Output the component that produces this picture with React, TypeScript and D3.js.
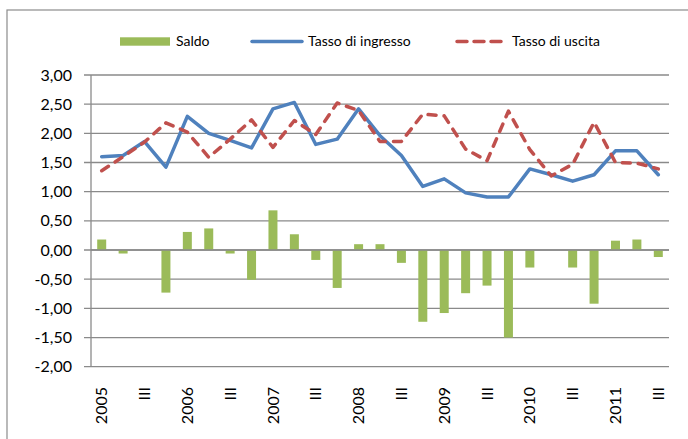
import React from "react";
import * as d3 from "d3";

const quarters: string[] = [
  "2005 I", "2005 II", "2005 III", "2005 IV",
  "2006 I", "2006 II", "2006 III", "2006 IV",
  "2007 I", "2007 II", "2007 III", "2007 IV",
  "2008 I", "2008 II", "2008 III", "2008 IV",
  "2009 I", "2009 II", "2009 III", "2009 IV",
  "2010 I", "2010 II", "2010 III", "2010 IV",
  "2011 I", "2011 II", "2011 III",
];
const tickLabels: string[] = [
  "2005", "", "III", "", "2006", "", "III", "", "2007", "", "III", "", "2008", "", "III", "",
  "2009", "", "III", "", "2010", "", "III", "", "2011", "", "III",
];
const saldo: number[] = [
  0.18, -0.06, 0, -0.73, 0.31, 0.37, -0.06, -0.51, 0.68, 0.27, -0.17, -0.65, 0.1, 0.1,
  -0.22, -1.23, -1.08, -0.74, -0.61, -1.5, -0.3, 0, -0.3, -0.92, 0.16, 0.18, -0.12,
];
const ingresso: number[] = [
  1.6, 1.62, 1.86, 1.42, 2.29, 2.0, 1.88, 1.75, 2.42, 2.53, 1.81, 1.9, 2.42, 1.96,
  1.62, 1.09, 1.22, 0.98, 0.91, 0.91, 1.39, 1.29, 1.18, 1.29, 1.7, 1.7, 1.29,
];
const uscita: number[] = [
  1.36, 1.6, 1.85, 2.18, 2.02, 1.59, 1.9, 2.23, 1.76, 2.22, 1.98, 2.52, 2.39, 1.86,
  1.86, 2.33, 2.3, 1.73, 1.53, 2.38, 1.72, 1.27, 1.47, 2.19, 1.5, 1.49, 1.39,
];
const yTicks: number[] = [3, 2.5, 2, 1.5, 1, 0.5, 0, -0.5, -1, -1.5, -2];
const seriesNames: string[] = ["Saldo", "Tasso di ingresso", "Tasso di uscita"];

const W = 688;
const H = 439;
const left = 91;
const right = 669;
const top = 75;
const bottom = 366.7;
const FONT = "Lato, 'Open Sans', sans-serif";

export default function App() {
  const x = d3.scaleBand<string>().domain(quarters).range([left, right]).paddingInner(0).paddingOuter(0);
  const y = d3.scaleLinear().domain([-2, 3]).range([bottom, top]);
  const bw = x.bandwidth();
  const barW = bw * 0.42;
  const cx = (i: number) => (x(quarters[i]) as number) + bw / 2;
  const line = d3
    .line<number>()
    .x((_, i) => cx(i))
    .y((d) => y(d));
  const fmt = (v: number) => v.toFixed(2).replace(".", ",");

  return (
    <svg width={W} height={H} style={{ position: "absolute", left: 0, top: 0, background: "#fff" }} fontFamily={FONT}>
      <rect x={7} y={10} width={W + 10} height={H + 10} fill="#fff" stroke="#8c8c8c" strokeWidth={1.2} />
      {/* gridlines */}
      {yTicks.map((t) => (
        <g key={t}>
          <line x1={left - 7} x2={right} y1={y(t)} y2={y(t)} stroke="#8a8a8a" strokeWidth={1.3} />
          <text x={72} y={y(t)} dy="0.35em" textAnchor="end" fontSize={16} fill="#000">
            {fmt(t)}
          </text>
        </g>
      ))}
      <line x1={left} x2={left} y1={top} y2={bottom} stroke="#8a8a8a" strokeWidth={1.3} />
      {/* bars */}
      {saldo.map((v, i) =>
        v === 0 ? null : (
          <rect
            key={i}
            x={cx(i) - barW / 2}
            y={Math.min(y(v), y(0))}
            width={barW}
            height={Math.abs(y(v) - y(0))}
            fill="#9BBB59"
          />
        )
      )}
      <line x1={left} x2={right} y1={y(0)} y2={y(0)} stroke="#8a8a8a" strokeWidth={1.5} />
      {/* lines */}
      <path d={line(ingresso) || ""} fill="none" stroke="#4F81BD" strokeWidth={3.5} strokeLinejoin="round" strokeLinecap="round" />
      <path
        d={line(uscita) || ""}
        fill="none"
        stroke="#C0504D"
        strokeWidth={3.5}
        strokeDasharray="8,8"
        strokeLinejoin="round"
        strokeLinecap="round"
      />
      {/* x labels */}
      {tickLabels.map((l, i) =>
        l ? (
          <text
            key={i}
            transform={`translate(${cx(i)},${387}) rotate(-90)`}
            textAnchor="end"
            dy="0.35em"
            fontSize={16}
            fill="#000"
          >
            {l}
          </text>
        ) : null
      )}
      {/* legend */}
      <rect x={120} y={37.3} width={50} height={8.4} fill="#9BBB59" />
      <text x={176} y={41.5} dy="0.35em" fontSize={14} fill="#000">
        {seriesNames[0]}
      </text>
      <line x1={252} x2={302} y1={41.5} y2={41.5} stroke="#4F81BD" strokeWidth={3.5} strokeLinecap="round" />
      <text x={308} y={41.5} dy="0.35em" fontSize={14} fill="#000">
        {seriesNames[1]}
      </text>
      <line x1={457} x2={502} y1={41.5} y2={41.5} stroke="#C0504D" strokeWidth={3.5} strokeDasharray="10,7" strokeLinecap="round" />
      <text x={512} y={41.5} dy="0.35em" fontSize={14} fill="#000">
        {seriesNames[2]}
      </text>
    </svg>
  );
}
